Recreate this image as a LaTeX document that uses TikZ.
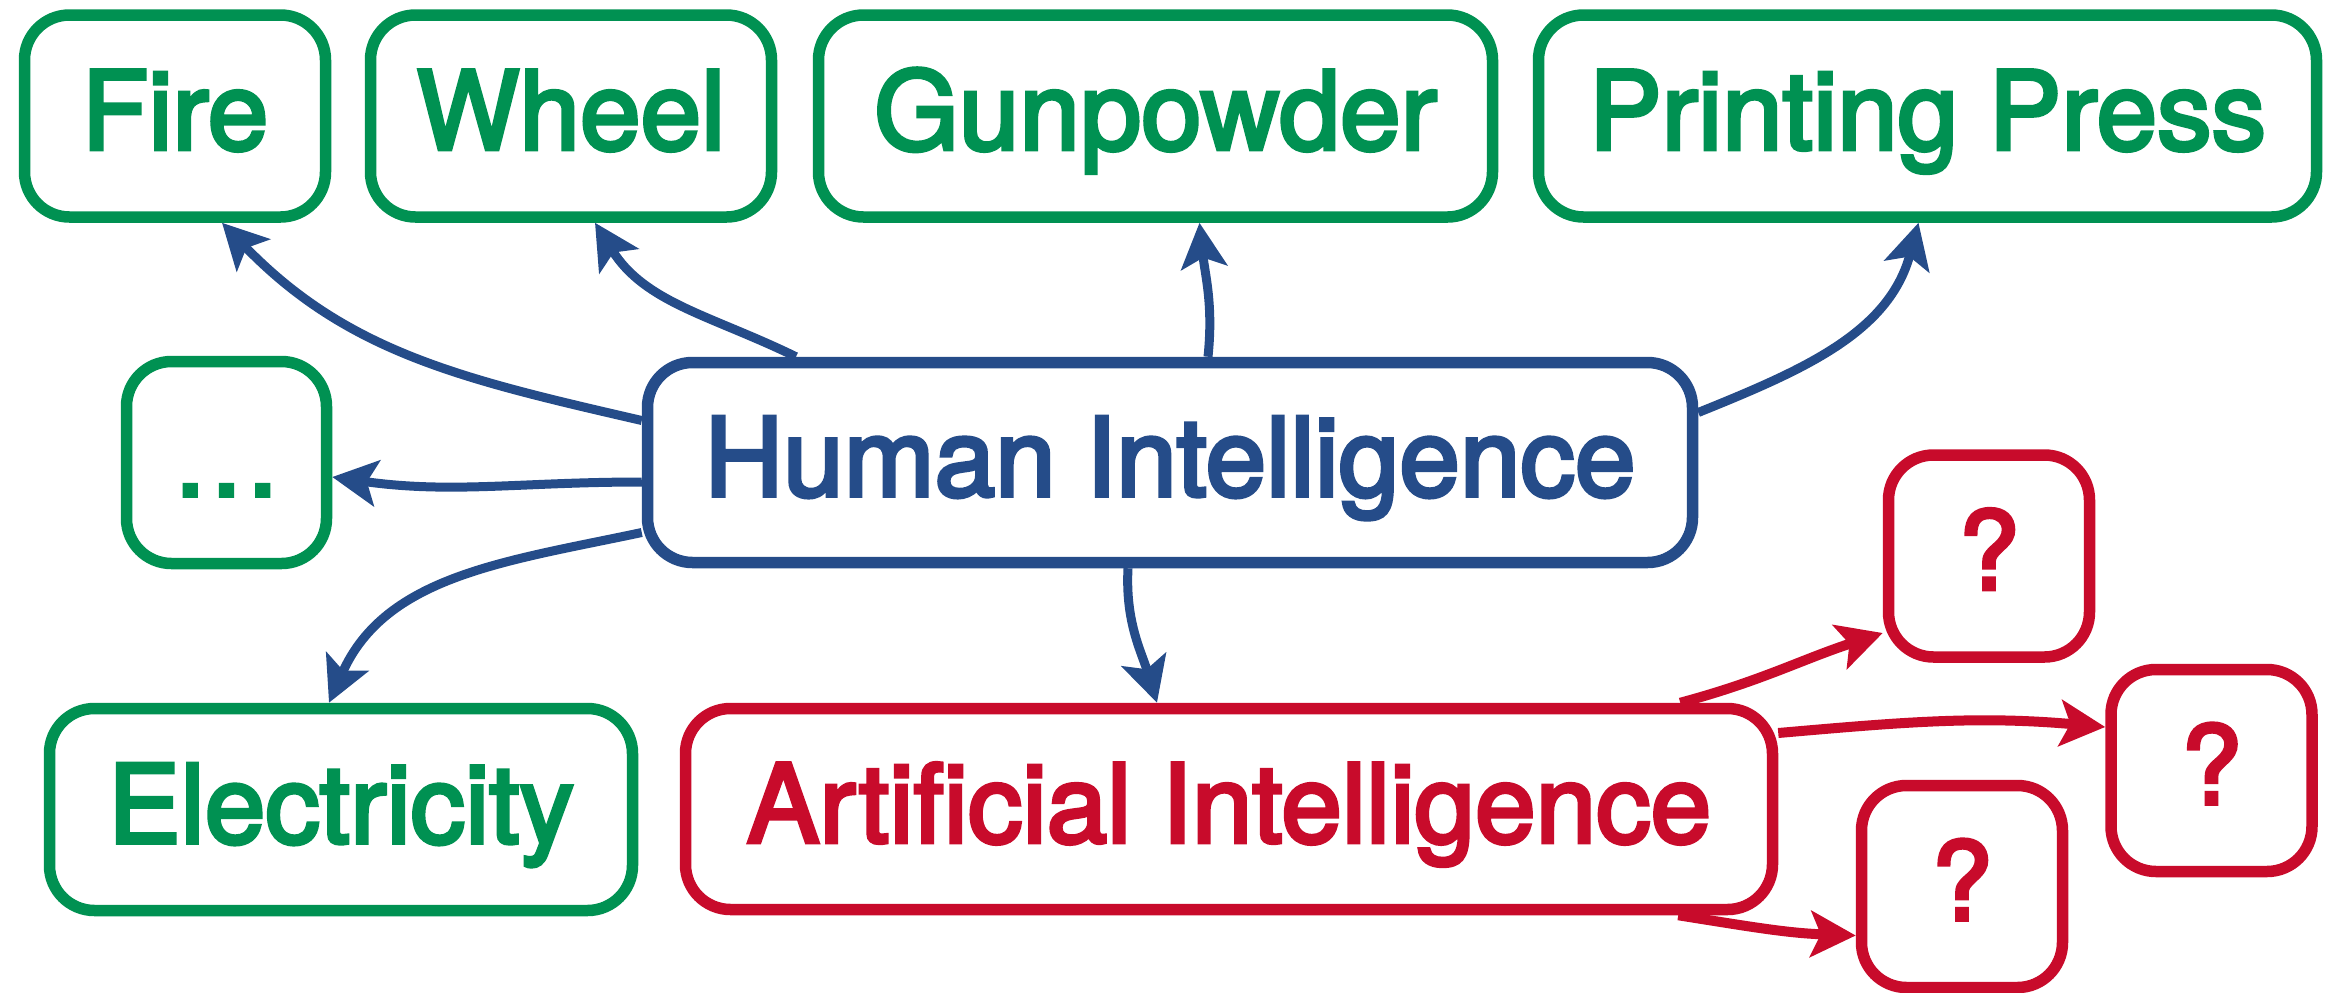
\documentclass[tikz,border=0pt]{standalone}
\usepackage{fontspec}
\setmainfont{TeX Gyre Heros}
\newfontfamily\boxfont{TeX Gyre Heros}[FakeBold=3.5]
\usetikzlibrary{arrows.meta}
\definecolor{pastgreen}{RGB}{0,145,82}
\definecolor{humanblue}{RGB}{37,76,137}
\definecolor{machred}{RGB}{200,11,43}

\begin{document}
\begin{tikzpicture}[
  box/.style={draw, line width=1.15mm, rounded corners=4.5mm, inner sep=0pt,
    minimum height=2.02cm, font=\boxfont\fontsize{31}{36}\selectfont,
    text height=7.7mm, text depth=1mm},
  pastbox/.style={box, draw=pastgreen, text=pastgreen},
  humanbox/.style={box, draw=humanblue, text=humanblue},
  machbox/.style={box, draw=machred, text=machred},
  tip/.style={-{Stealth[length=4.5mm, width=4.6mm, inset=1mm]}},
  hiarrow/.style={tip, draw=humanblue, line width=0.9mm},
  aiarrow/.style={tip, draw=machred, line width=1mm}
]
\useasboundingbox (0,0) rectangle (23.28,-9.92);

% inventions
\node[pastbox, minimum width=3.01cm] (fire) at (1.75,-1.16) {Fire};
\node[pastbox, minimum width=4.01cm] (wheel) at (5.71,-1.16) {Wheel};
\node[pastbox, minimum width=6.74cm] (gunpowder) at (11.555,-1.16) {Gunpowder};
\node[pastbox, minimum width=7.78cm] (press) at (19.275,-1.16) {Printing Press};
\node[pastbox, minimum width=2.0cm, minimum height=2.02cm] (more) at (2.265,-4.625) {…};
\node[pastbox, minimum width=5.83cm, minimum height=2.02cm] (electricity) at (3.41,-8.095) {Electricity};

\node[humanbox, minimum width=10.45cm, minimum height=2.0cm] (human) at (11.70,-4.625) {Human Intelligence};
\node[machbox, minimum width=10.87cm, minimum height=2.01cm] (ai) at (12.29,-8.09) {Artificial Intelligence};

\foreach \n/\x/\y in {q1/19.89/-5.56, q2/22.115/-7.705, q3/19.62/-8.865} {
\node[machbox, minimum width=2.01cm, minimum height=2.02cm] (\n) at (\x,\y) {?};
}

% human intelligence
\draw[hiarrow] ([yshift=4.2mm]human.west) to[out=167,in=-46] ([xshift=4.7mm]fire.south);
\draw[hiarrow] ([xshift=-37.4mm]human.north) to[out=154,in=-58] ([xshift=2.4mm]wheel.south);
\draw[hiarrow] ([xshift=3.8mm]human.north) to[out=84,in=-84] ([xshift=4.4mm]gunpowder.south);
\draw[hiarrow] ([yshift=5mm]human.east) to[out=22,in=-105] ([xshift=-0.9mm]press.south);
\draw[hiarrow] ([yshift=-1.95mm]human.west) to[out=180,in=-8] ([yshift=-1.45mm]more.east);
\draw[hiarrow] ([yshift=-7mm]human.west) to[out=192,in=66] ([xshift=-1.2mm]electricity.north);
\draw[hiarrow] ([xshift=-4.2mm]human.south) to[out=-93,in=107] ([xshift=-7.2mm]ai.north);

% artificial intelligence
\draw[aiarrow] ([xshift=-9.8mm]ai.north east) to[out=15,in=198] ([yshift=-7.7mm]q1.west);
\draw[aiarrow] ([yshift=7.6mm]ai.east) to[out=5,in=175] ([yshift=4.35mm]q2.west);
\draw[aiarrow] ([xshift=-10mm]ai.south east) to[out=-9,in=178] ([yshift=-4.9mm]q3.west);
\end{tikzpicture}
\end{document}
